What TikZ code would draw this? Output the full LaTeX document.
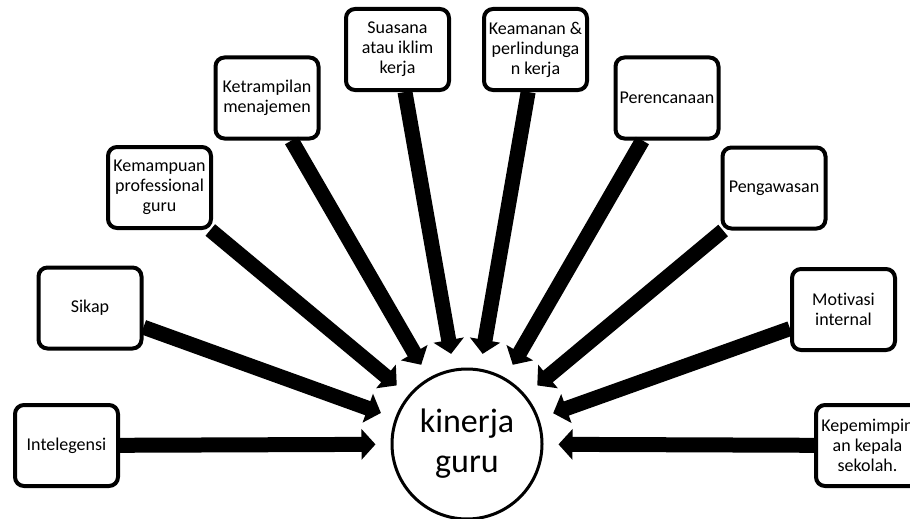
\documentclass[tikz,border=0pt]{standalone}
\usepackage{fontspec}
\setmainfont{Carlito}[Ligatures=NoCommon]
\usetikzlibrary{arrows.meta}
\begin{document}
\begin{tikzpicture}[x=1pt,y=-1pt,
  factor/.style={draw, line width=4pt, rounded corners=9pt, minimum width=103pt, minimum height=81pt,
    align=center, font=\fontsize{18}{20}\selectfont, inner sep=2pt, fill=white},
  hub/.style={draw, circle, line width=3pt, minimum size=150pt, align=center,
    font=\fontsize{34}{40}\selectfont, inner sep=0pt},
  flow/.style={line width=15pt, -{Triangle[length=14pt,width=30pt]}, shorten >=15pt}]
\useasboundingbox (0,0) rectangle (910,519);
\clip (0,0) rectangle (910,519);

\node[hub] (hub) at (467,444) {kinerja\\guru};

\node[factor] (intel) at (66.5,445.5) {Intelegensi};
\node[factor] (sikap) at (90,308) {Sikap};
\node[factor] (kemam) at (159.5,187.5) {Kemampuan\\professional\\guru};
\node[factor] (ketra) at (267,98) {Ketrampilan\\menajemen};
\node[factor] (suasa) at (397.5,49.5) {Suasana\\atau iklim\\kerja};
\node[factor] (keama) at (535.5,49.5) {Keamanan \&\\perlindunga\\n kerja};
\node[factor] (peren) at (667,98) {Perencanaan};
\node[factor] (penga) at (774,188) {Pengawasan};
\node[factor] (motiv) at (843.5,309.5) {Motivasi\\internal};
\node[factor] (kepem) at (867.5,445.5) {Kepemimpin\\an kepala\\sekolah.};

\foreach \n in {intel,sikap,kemam,ketra,suasa,keama,peren,penga,motiv,kepem}
  \draw[flow] (\n) -- (hub);
\end{tikzpicture}
\end{document}
